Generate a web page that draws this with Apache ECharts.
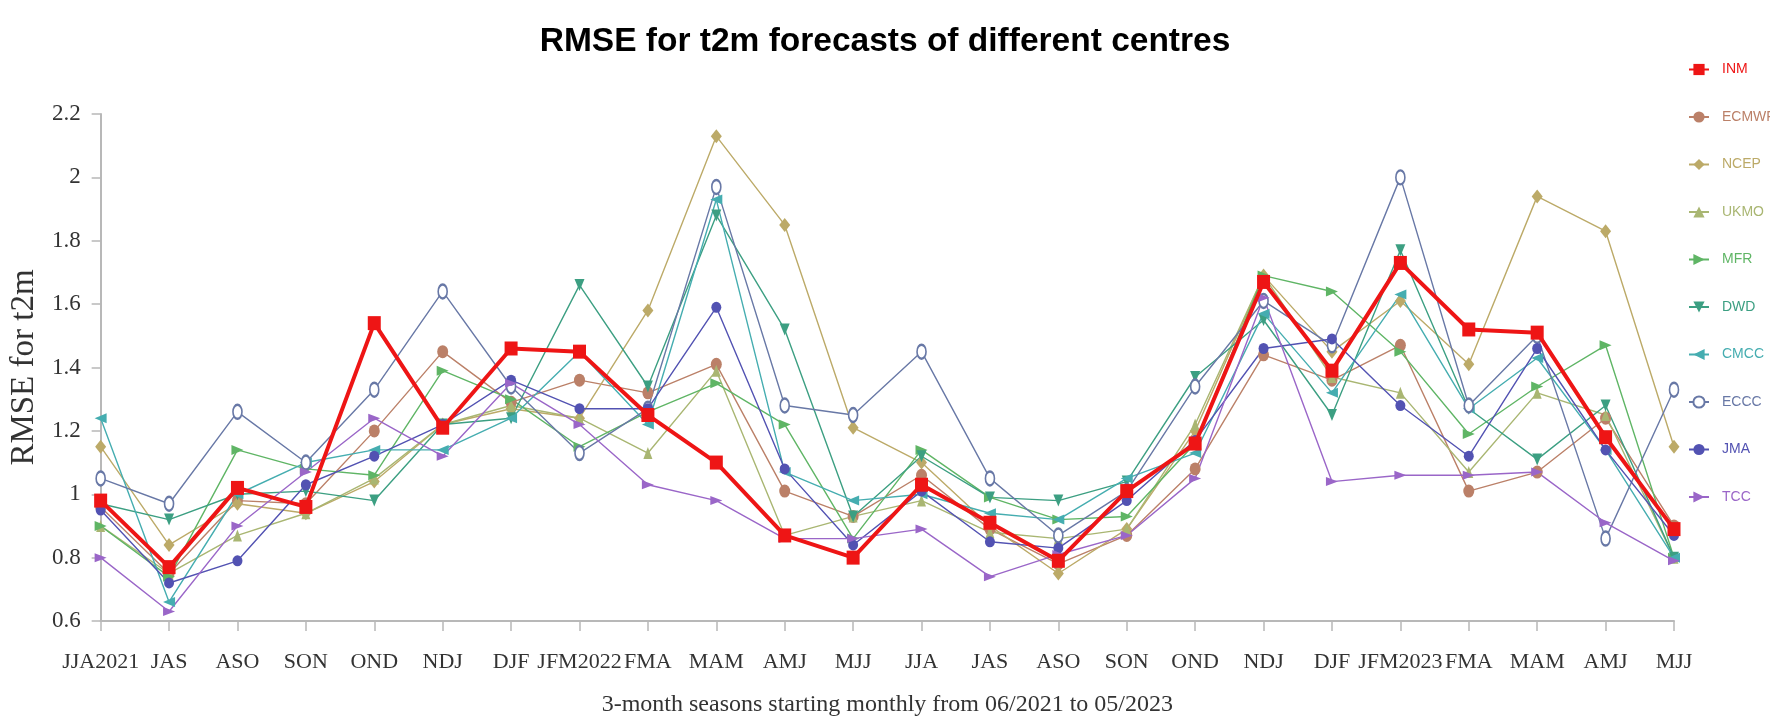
<!DOCTYPE html>
<html>
<head>
<meta charset="utf-8">
<script src="https://cdn.jsdelivr.net/npm/echarts@6/dist/echarts.min.js"></script>
<style>
html,body{margin:0;padding:0;background:#fff;}
#chart{width:1770px;height:722px;}
</style>
</head>
<body>
<div id="chart"></div>
<script>
const categories = ['JJA2021','JAS','ASO','SON','OND','NDJ','DJF','JFM2022','FMA','MAM','AMJ','MJJ','JJA','JAS','ASO','SON','OND','NDJ','DJF','JFM2023','FMA','MAM','AMJ','MJJ'];
const yTicks = [0.6, 0.8, 1, 1.2, 1.4, 1.6, 1.8, 2, 2.2];

const INM   = [0.98,0.77,1.02,0.96,1.54,1.21,1.46,1.45,1.25,1.10,0.87,0.80,1.03,0.91,0.79,1.01,1.16,1.67,1.39,1.73,1.52,1.51,1.18,0.89];
const ECMWF = [0.96,0.75,0.98,0.97,1.20,1.45,1.29,1.36,1.32,1.41,1.01,0.93,1.06,0.89,0.78,0.87,1.08,1.44,1.36,1.47,1.01,1.07,1.24,0.90];
const NCEP  = [1.15,0.84,0.97,0.94,1.04,1.22,1.27,1.24,1.58,2.13,1.85,1.21,1.10,0.90,0.75,0.89,1.20,1.69,1.45,1.61,1.41,1.94,1.83,1.15];
const UKMO  = [0.90,0.75,0.87,0.94,1.05,1.22,1.28,1.24,1.13,1.39,0.87,0.93,0.98,0.88,0.86,0.89,1.22,1.69,1.37,1.32,1.07,1.32,1.25,0.80];
const MFR   = [0.90,0.74,1.14,1.08,1.06,1.39,1.30,1.15,1.26,1.35,1.22,0.86,1.14,0.99,0.92,0.93,1.16,1.69,1.64,1.45,1.19,1.34,1.47,0.80];
const DWD   = [0.97,0.92,1.00,1.01,0.98,1.22,1.24,1.66,1.34,1.88,1.52,0.93,1.12,0.99,0.98,1.04,1.37,1.55,1.25,1.77,1.27,1.11,1.28,0.80];
const CMCC  = [1.24,0.66,1.00,1.10,1.14,1.14,1.24,1.45,1.22,1.93,1.07,0.98,1.00,0.94,0.92,1.05,1.13,1.57,1.32,1.63,1.27,1.43,1.14,0.80];
const ECCC  = [1.05,0.97,1.26,1.10,1.33,1.64,1.34,1.13,1.27,1.97,1.28,1.25,1.45,1.05,0.87,1.01,1.34,1.61,1.47,2.00,1.28,1.50,0.86,1.33];
const JMA   = [0.95,0.72,0.79,1.03,1.12,1.22,1.36,1.27,1.27,1.59,1.08,0.84,1.01,0.85,0.83,0.98,1.17,1.46,1.49,1.28,1.12,1.46,1.14,0.87];
const TCC   = [0.80,0.63,0.90,1.07,1.24,1.12,1.35,1.22,1.03,0.98,0.86,0.86,0.89,0.74,0.81,0.87,1.05,1.62,1.04,1.06,1.06,1.07,0.91,0.79];

const seriesDefs = [
  {name:'INM',   data:INM,   color:'#ee1515', symbol:'rect',        size:[13,14], rot:0,   lw:4,   z:10},
  {name:'ECMWF', data:ECMWF, color:'#bb8068', symbol:'circle',      size:[11,13], rot:0,   lw:1.4, z:3},
  {name:'NCEP',  data:NCEP,  color:'#bcaa68', symbol:'diamond',     size:[11,14], rot:0,   lw:1.4, z:3},
  {name:'UKMO',  data:UKMO,  color:'#a9b672', symbol:'triangle',    size:[9,12],  rot:0,   lw:1.4, z:3},
  {name:'MFR',   data:MFR,   color:'#5fb565', symbol:'triangle',    size:[10,12], rot:-90, lw:1.4, z:3},
  {name:'DWD',   data:DWD,   color:'#3c9f82', symbol:'triangle',    size:[10,12], rot:180, lw:1.4, z:3},
  {name:'CMCC',  data:CMCC,  color:'#45adb0', symbol:'triangle',    size:[10,12], rot:90,  lw:1.4, z:3},
  {name:'ECCC',  data:ECCC,  color:'#6878a6', symbol:'emptyCircle', size:[9,14],  rot:0,   lw:1.4, z:3},
  {name:'JMA',   data:JMA,   color:'#5252b2', symbol:'circle',      size:[10,11], rot:0,   lw:1.4, z:3},
  {name:'TCC',   data:TCC,   color:'#9a66c8', symbol:'triangle',    size:[9,12],  rot:-90, lw:1.4, z:3}
];

const chart = echarts.init(document.getElementById('chart'), null, {renderer:'canvas'});
const serifFont = "'Liberation Serif','Times New Roman',serif";
const sansFont = "'Liberation Sans',Arial,sans-serif";
const option = {
  animation:false,
  backgroundColor:'#ffffff',
  title:{
    text:'RMSE for t2m forecasts of different centres',
    left:'center', top:20,
    textStyle:{fontFamily:sansFont, fontWeight:'bold', fontSize:33.5, color:'#000'}
  },
  legend:{
    orient:'vertical',
    left:1683, top:57.5,
    itemWidth:20, itemHeight:14, itemGap:33.5,
    textStyle:{fontFamily:sansFont, fontSize:14, padding:[0,0,0,8]},
    data: seriesDefs.map(s=>({name:s.name, textStyle:{color:s.color}}))
  },
  grid:{left:89, right:96, top:114, bottom:97, containLabel:false},
  xAxis:{
    type:'category',
    data:categories,
    boundaryGap:false,
    name:'3-month seasons starting monthly from 06/2021 to 05/2023',
    nameLocation:'middle', nameGap:72,
    nameTextStyle:{fontFamily:serifFont, fontSize:24, color:'#333'},
    axisLine:{show:true, lineStyle:{color:'#b8b8b8', width:2}},
    axisTick:{show:true, inside:false, length:10, alignWithLabel:true, lineStyle:{color:'#b8b8b8', width:1.5}},
    axisLabel:{interval:0, margin:30, fontFamily:serifFont, fontSize:22, color:'#333'},
    splitLine:{show:false}
  },
  yAxis:{
    type:'value',
    min:0.6, max:2.2, interval:0.2,
    name:'RMSE for t2m',
    nameLocation:'middle', nameGap:42, nameRotate:90,
    nameTextStyle:{fontFamily:serifFont, fontSize:33, color:'#333'},
    axisLine:{show:true, lineStyle:{color:'#b8b8b8', width:2}},
    axisTick:{show:true, inside:false, length:9, lineStyle:{color:'#b8b8b8', width:1.5}},
    axisLabel:{margin:20, fontFamily:serifFont, fontSize:23, color:'#333',
      formatter:function(v){ return String(parseFloat(v.toFixed(1))); }},
    splitLine:{show:false}
  },
  series: seriesDefs.map(s=>({
    name:s.name, type:'line', data:s.data,
    symbol:s.symbol, symbolSize:s.size, symbolRotate:s.rot,
    showAllSymbol:true,
    z:s.z,
    lineStyle:{color:s.color, width:s.lw},
    itemStyle:{color:s.color, borderColor:s.color, borderWidth: s.symbol==='emptyCircle'?1.2:0}
  }))
};
chart.setOption(option);
</script>
</body>
</html>
